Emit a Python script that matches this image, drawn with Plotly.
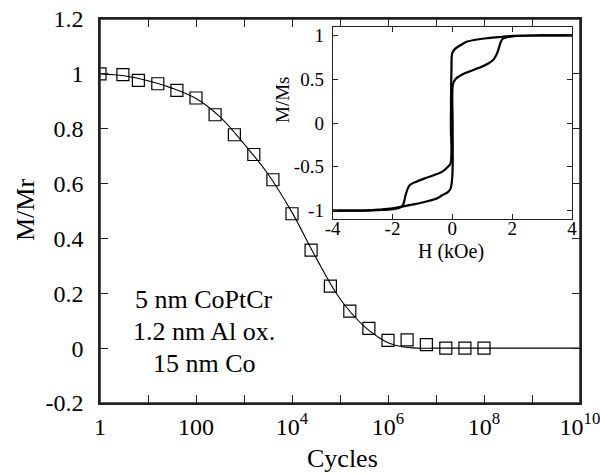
import plotly.graph_objects as go

# ---- main panel data ----
cycles = [1, 3, 6.3, 16, 40, 100, 250, 630, 1600, 4000, 1e4, 2.5e4, 6.3e4,
          1.6e5, 4e5, 1e6, 2.5e6, 6.3e6, 1.6e7, 4e7, 1e8]
m_mr = [1.0, 0.997, 0.976, 0.964, 0.940, 0.912, 0.851, 0.778, 0.706, 0.614,
        0.490, 0.357, 0.226, 0.135, 0.072, 0.028, 0.030, 0.013, 0.0, 0.0, 0.0]

fit_cycles = [1, 3.16, 10, 31.6, 100, 316, 1e3, 3.16e3, 1e4, 3.16e4, 1e5,
              3.16e5, 6.3e5, 1e6, 2e6, 4e6, 1e7, 1e8, 1e9, 1e10]
fit_m = [1.0, 0.993, 0.975, 0.948, 0.910, 0.843, 0.745, 0.635, 0.495, 0.330,
         0.180, 0.080, 0.040, 0.020, 0.005, 0.0, 0.0, 0.0, 0.0, 0.0]

x_tickvals = [1, 10, 100, 1e3, 1e4, 1e5, 1e6, 1e7, 1e8, 1e9, 1e10]
x_ticktext = ["1", "", "100", "", "10<sup>4</sup>", "", "10<sup>6</sup>", "",
              "10<sup>8</sup>", "", "10<sup>10</sup>"]
y_tickvals = [-0.2, 0, 0.2, 0.4, 0.6, 0.8, 1.0, 1.2]
y_ticktext = ["-0.2", "0", "0.2", "0.4", "0.6", "0.8", "1", "1.2"]

# ---- inset hysteresis loop ----
h_down = [4, 3, 2, 1.67, 1.2, 0.89, 0.5, 0.33, 0.1, 0.0, -0.03, -0.05, -0.06,
          -0.15, -0.335, -0.9, -1.2, -1.34, -1.45, -1.56, -1.68, -2.0, -2.5, -3, -4]
m_down = [1.0, 1.0, 0.995, 0.985, 0.97, 0.957, 0.93, 0.90, 0.85, 0.80, 0.6, 0.0,
          -0.46, -0.50, -0.556, -0.63, -0.67, -0.69, -0.72, -0.82, -0.95, -0.985,
          -0.995, -1.0, -1.0]
h_up = [-4, -3, -2.5, -2, -1.68, -1.3, -0.9, -0.5, -0.335, -0.15, -0.06, 0.0,
        0.01, 0.02, 0.1, 0.33, 0.89, 1.2, 1.39, 1.5, 1.56, 1.67, 2, 3, 4]
m_up = [-1.0, -1.0, -0.99, -0.975, -0.955, -0.93, -0.90, -0.86, -0.824, -0.79,
        -0.75, -0.6, 0.0, 0.44, 0.50, 0.555, 0.63, 0.68, 0.73, 0.80, 0.86, 0.957,
        0.99, 1.0, 1.0]
ix_tickvals = [-4, -2, 0, 2, 4]
ix_ticktext = ["-4", "-2", "0", "2", "4"]
iy_tickvals = [-1, -0.5, 0, 0.5, 1]
iy_ticktext = ["-1", "-0.5", "0", "0.5", "1"]

annot_lines = ["5 nm CoPtCr", "1.2 nm Al ox.", "15 nm Co"]

SERIF = "Liberation Serif, Times New Roman, serif"

# plot area target in window px: x 100..580, y 19..403 (page body margin removed)
FW, FH = 600, 474
L, T, R, B = 100, 19, 20, 71
PW, PH = 480, 384


def px(xw):
    return (xw - 100) / PW


def py(yw):
    return (403 - yw) / PH


fig = go.Figure()
fig.add_trace(go.Scatter(x=fit_cycles, y=fit_m, mode="lines", line_shape="spline",
                         line=dict(color="black", width=1.1), showlegend=False,
                         xaxis="x", yaxis="y"))
fig.add_trace(go.Scatter(x=cycles, y=m_mr, mode="markers",
                         marker=dict(symbol="square-open", size=12,
                                     color="black", line=dict(width=1.2, color="black")),
                         showlegend=False, xaxis="x", yaxis="y"))
# invisible trace on mirror axes so that they are drawn
fig.add_trace(go.Scatter(x=[cycles[0]], y=[m_mr[0]], mode="markers",
                         marker=dict(opacity=0), showlegend=False, hoverinfo="skip",
                         xaxis="x3", yaxis="y3"))
fig.add_trace(go.Scatter(x=h_down, y=m_down, mode="lines", line_shape="spline",
                         line=dict(color="black", width=2.2), showlegend=False,
                         xaxis="x2", yaxis="y2"))
fig.add_trace(go.Scatter(x=h_up, y=m_up, mode="lines", line_shape="spline",
                         line=dict(color="black", width=2.2), showlegend=False,
                         xaxis="x2", yaxis="y2"))

axis_common = dict(showgrid=False, zeroline=False, ticks="inside",
                   showline=True, linecolor="#222", tickcolor="#222", automargin=False)

fig.update_layout(
    width=FW, height=FH,
    margin=dict(l=L, r=R, t=T, b=B, autoexpand=False),
    paper_bgcolor="white", plot_bgcolor="white",
    font=dict(family=SERIF, color="black"),
    xaxis=dict(type="log", range=[0, 10], tickvals=x_tickvals, ticktext=x_ticktext,
               ticklen=8, linewidth=1.5, tickwidth=1.2, domain=[0, 1], anchor="y",
               tickfont=dict(size=24, family=SERIF), ticklabelstandoff=1,
               ticklabeloverflow="allow", mirror="ticks", **axis_common),
    yaxis=dict(range=[-0.2, 1.2], tickvals=y_tickvals, ticktext=y_ticktext,
               ticklen=8, linewidth=1.5, tickwidth=1.2, domain=[0, 1], anchor="x",
               tickfont=dict(size=24, family=SERIF), ticklabelstandoff=10,
               ticklabeloverflow="allow", mirror="ticks", **axis_common),
    xaxis3=dict(type="log", range=[0, 10], tickvals=x_tickvals, side="top",
                overlaying="x", anchor="y3", showticklabels=False, ticklen=8,
                linewidth=1.5, tickwidth=1.2, **axis_common),
    yaxis3=dict(range=[-0.2, 1.2], tickvals=y_tickvals, side="right",
                overlaying="y", anchor="x3", showticklabels=False, ticklen=8,
                linewidth=1.5, tickwidth=1.2, **axis_common),
    xaxis2=dict(range=[-4, 4], tickvals=ix_tickvals, ticktext=ix_ticktext,
                ticklen=5, linewidth=1, tickwidth=1, anchor="y2", mirror="ticks",
                domain=[px(332.7), px(572)], tickfont=dict(size=19, family=SERIF),
                ticklabelstandoff=-8, **axis_common),
    yaxis2=dict(range=[-1.1, 1.1], tickvals=iy_tickvals, ticktext=iy_ticktext,
                ticklen=5, linewidth=1, tickwidth=1, anchor="x2", mirror="ticks",
                domain=[py(219.3), py(26.7)], tickfont=dict(size=19, family=SERIF),
                ticklabelstandoff=4, **axis_common),
    shapes=[dict(type="rect", xref="paper", yref="paper", x0=0, x1=1, y0=0, y1=1,
                 line=dict(color="#222", width=1.5), layer="above")],
)

annots = [
    dict(text="M/Mr", x=px(25), y=py(210), textangle=-90, font=dict(size=26)),
    dict(text="Cycles", x=px(342), y=py(458), font=dict(size=26)),
    dict(text="H (kOe)", x=px(451), y=py(251), font=dict(size=20)),
    dict(text="M/Ms", x=px(282), y=py(100), textangle=-90, font=dict(size=19)),
]
for line, yy in zip(annot_lines, [299, 331, 363]):
    annots.append(dict(text=line, x=px(204), y=py(yy), font=dict(size=26)))
for a in annots:
    a.update(xref="paper", yref="paper", showarrow=False, xanchor="center",
             yanchor="middle")
    a["font"]["family"] = SERIF
    a["font"]["color"] = "black"
fig.update_layout(annotations=annots)

fig.write_html("out.html", config={"displayModeBar": False},
               post_script="document.body.style.margin='0';"
                           "document.body.style.overflow='hidden';")
